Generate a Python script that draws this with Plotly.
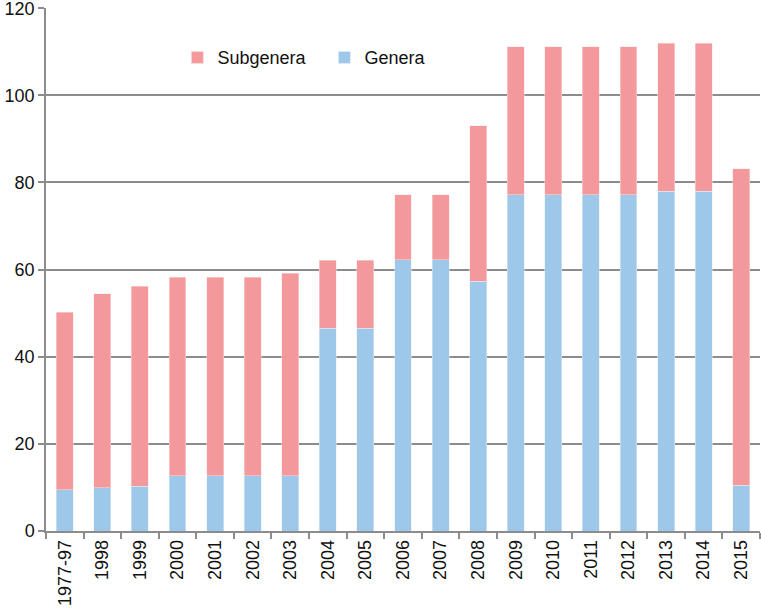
import plotly.graph_objects as go

categories = ["1977-97", "1998", "1999", "2000", "2001", "2002", "2003", "2004", "2005",
              "2006", "2007", "2008", "2009", "2010", "2011", "2012", "2013", "2014", "2015"]
genera = [9.5, 9.9, 10.3, 12.7, 12.7, 12.7, 12.7, 46.5, 46.5,
          62.3, 62.3, 57.3, 77.2, 77.2, 77.2, 77.2, 78, 78, 10.5]
subgenera = [40.7, 44.6, 45.9, 45.6, 45.6, 45.6, 46.5, 15.7, 15.7,
             14.9, 14.9, 35.7, 33.9, 33.9, 33.9, 33.9, 34, 34, 72.6]
y_ticks = [0, 20, 40, 60, 80, 100, 120]

pink = "#F4999B"
blue = "#9DC8E9"
grid = "#8C8C8C"

fig = go.Figure()
fig.add_trace(go.Bar(x=categories, y=genera, name="Genera",
                     marker=dict(color=blue, line=dict(color="#E6F0F8", width=0.5))))
fig.add_trace(go.Bar(x=categories, y=subgenera, name="Subgenera",
                     marker=dict(color=pink, line=dict(color="#FBE3E4", width=0.5))))

fig.update_layout(
    barmode="stack",
    bargap=0.55,
    width=761, height=611,
    margin=dict(l=46, r=1, t=8, b=80, autoexpand=False),
    paper_bgcolor="white", plot_bgcolor="white",
    font=dict(family="Liberation Sans, Arial, sans-serif", size=18, color="#111111"),
    showlegend=True,
    legend=dict(orientation="h", traceorder="reversed", x=0.184, xanchor="left",
                y=0.905, yanchor="middle", bgcolor="rgba(0,0,0,0)",
                font=dict(size=18), itemwidth=30, entrywidth=102, entrywidthmode="pixels",
                tracegroupgap=0),
    xaxis=dict(showline=True, linecolor=grid, linewidth=1.5, ticks="outside",
               tickson="boundaries", ticklen=6, tickcolor=grid, tickwidth=1.5,
               tickangle=-90, showgrid=False, tickfont=dict(size=18), automargin=False),
    yaxis=dict(range=[0, 120.05], tickvals=y_ticks, showline=True, linecolor=grid,
               linewidth=1.5, ticks="outside", ticklen=6, tickcolor=grid, tickwidth=1.5,
               showgrid=True, gridcolor=grid, gridwidth=1.5, zeroline=False,
               tickfont=dict(size=18), automargin=False, ticklabeloverflow="allow"),
)

fig.write_html("out.html", config={"displayModeBar": False},
               post_script="document.body.style.margin='0';document.body.style.padding='0';")
